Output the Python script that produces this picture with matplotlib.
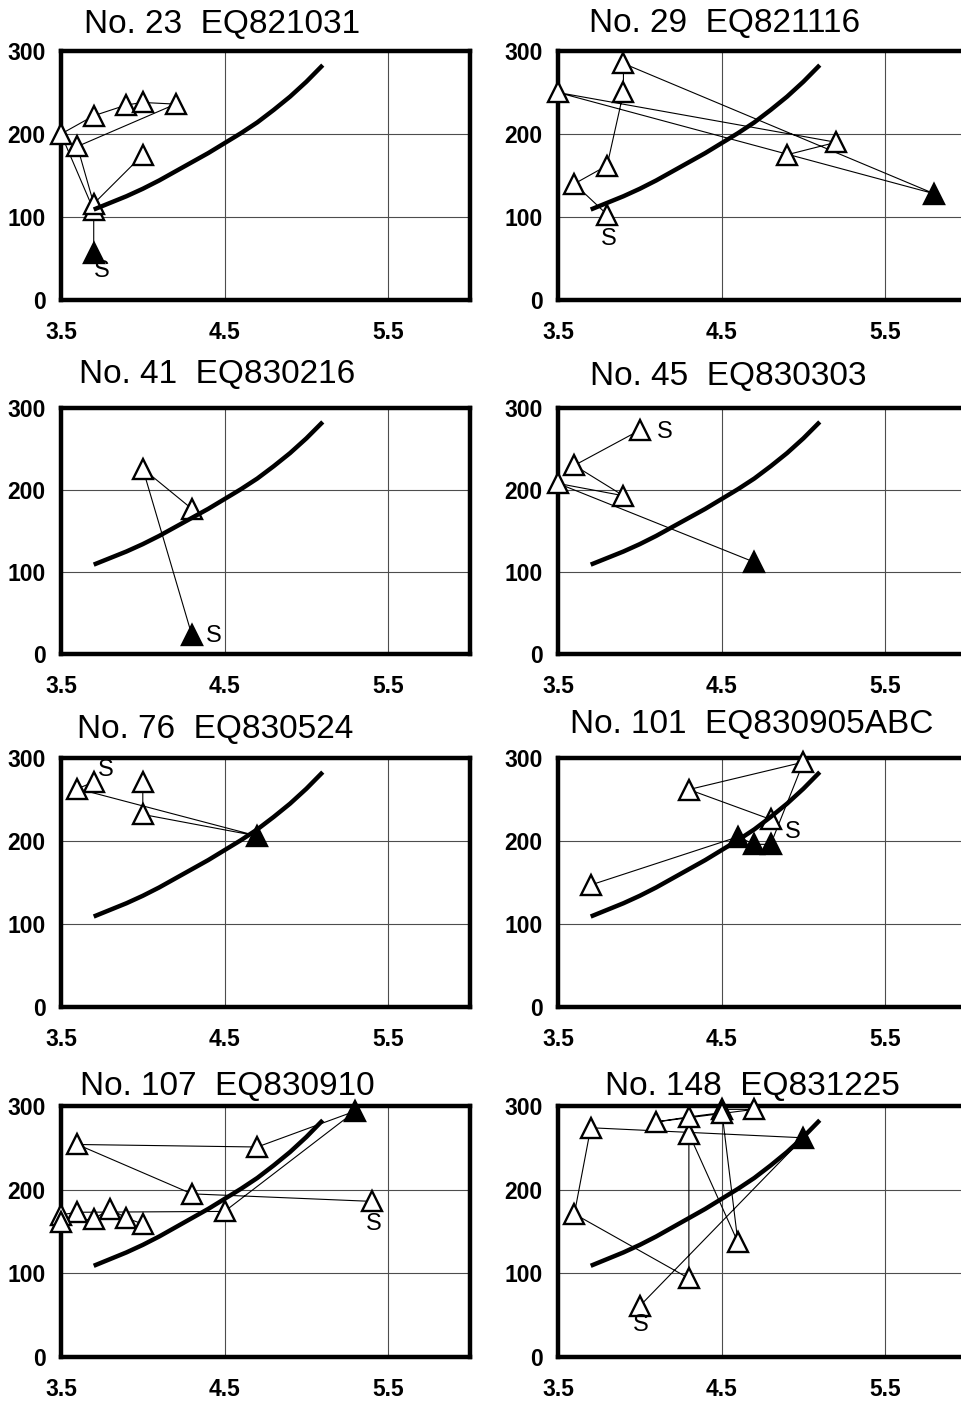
import matplotlib.pyplot as plt

plt.rcParams['font.family'] = ['Liberation Sans', 'DejaVu Sans']

W, H = 961, 1401

# common reference curve (magnitude vs value)
curve_m = [3.7, 3.8, 3.9, 4.0, 4.1, 4.2, 4.3, 4.4, 4.5, 4.6, 4.7, 4.8, 4.9, 5.0, 5.1]
curve_v = [109, 117, 125, 134, 144, 155, 166, 177, 189, 201, 214, 229, 245, 263, 283]

# event sequences, in plotting order (first point is the "S" one)
eq23_m = [3.7, 3.7, 3.5, 3.7, 3.9, 4.0, 4.2, 3.6, 3.7, 4.0]
eq23_v = [57, 108, 200, 222, 235, 238, 236, 185, 116, 175]
eq23_filled = [0]

eq29_m = [3.8, 3.6, 3.8, 3.9, 3.9, 5.8, 3.5, 5.2, 4.9]
eq29_v = [103, 140, 162, 250, 285, 128, 250, 190, 175]
eq29_filled = [5]

eq41_m = [4.3, 4.0, 4.3]
eq41_v = [23, 226, 177]
eq41_filled = [0]

eq45_m = [4.0, 3.6, 3.9, 3.5, 4.7]
eq45_v = [273, 230, 193, 208, 112]
eq45_filled = [4]

eq76_m = [3.7, 3.6, 4.7, 4.0, 4.0]
eq76_v = [271, 263, 206, 232, 271]
eq76_filled = [2]

eq101_m = [4.8, 4.3, 5.0, 4.8, 4.7, 4.6, 3.7]
eq101_v = [226, 262, 295, 196, 196, 205, 147]
eq101_filled = [3, 4, 5]

eq107_m = [5.4, 4.3, 3.6, 4.7, 5.3, 4.5, 3.6, 3.5, 3.5, 3.7, 3.8, 3.9, 4.0]
eq107_v = [186, 195, 254, 251, 294, 174, 173, 170, 161, 165, 177, 166, 159]
eq107_filled = [4]

eq148_m = [4.0, 5.0, 3.7, 3.6, 4.3, 4.3, 4.6, 4.5, 4.7, 4.1, 4.3, 4.5]
eq148_v = [61, 262, 274, 171, 94, 267, 137, 296, 296, 281, 287, 292]
eq148_filled = [1]

titles = ['No. 23  EQ821031', 'No. 29  EQ821116',
          'No. 41  EQ830216', 'No. 45  EQ830303',
          'No. 76  EQ830524', 'No. 101  EQ830905ABC',
          'No. 107  EQ830910', 'No. 148  EQ831225']

panels = [
    (eq23_m, eq23_v, eq23_filled, (8, -18)),
    (eq29_m, eq29_v, eq29_filled, (2, -24)),
    (eq41_m, eq41_v, eq41_filled, (22, -1)),
    (eq45_m, eq45_v, eq45_filled, (25, -2)),
    (eq76_m, eq76_v, eq76_filled, (12, 12)),
    (eq101_m, eq101_v, eq101_filled, (22, -13)),
    (eq107_m, eq107_v, eq107_filled, (2, -23)),
    (eq148_m, eq148_v, eq148_filled, (1, -19)),
]

# layout in pixels: column left edges, row top/bottom, title anchors
col_left = [61, 558]
ax_width = 409
rows = [(51, 300), (408, 654), (758, 1007), (1106, 1357)]
title_pos = [(222, 33), (725, 32), (217, 383), (728, 385),
             (215, 738), (752, 733), (227, 1095), (752, 1095)]

fig = plt.figure(figsize=(W / 100, H / 100), dpi=100)

for i, (m, v, filled, s_off) in enumerate(panels):
    r, c = divmod(i, 2)
    top, bot = rows[r]
    ax = fig.add_axes([col_left[c] / W, 1 - bot / H, ax_width / W, (bot - top) / H])
    ax.set_xlim(3.5, 6.0)
    ax.set_ylim(0, 300)
    ax.set_xticks([3.5, 4.5, 5.5])
    ax.set_xticklabels(['3.5', '4.5', '5.5'])
    ax.set_yticks([0, 100, 200, 300])
    ax.tick_params(length=0, labelsize=16.5)
    ax.tick_params(axis='x', pad=15)
    ax.tick_params(axis='y', pad=11)
    for lab in ax.get_xticklabels() + ax.get_yticklabels():
        lab.set_fontweight('bold')
    ax.grid(True, color='0.3', lw=0.8)
    for sp in ax.spines.values():
        sp.set_linewidth(3.2)

    # connecting path
    ax.plot(m, v, color='black', lw=0.8, zorder=3, clip_on=False)
    open_idx = [k for k in range(len(m)) if k not in filled]
    ax.plot([m[k] for k in open_idx], [v[k] for k in open_idx], ls='none',
            marker='^', ms=15, mfc='white', mec='black', mew=1.7,
            zorder=4, clip_on=False)
    ax.plot([m[k] for k in filled], [v[k] for k in filled], ls='none',
            marker='^', ms=15, mfc='black', mec='black', mew=1.7,
            zorder=5, clip_on=False)
    ax.plot(curve_m, curve_v, color='black', lw=3.2, zorder=6,
            solid_capstyle='butt', solid_joinstyle='round')
    ax.annotate('S', (m[0], v[0]), xytext=s_off, textcoords='offset pixels',
                ha='center', va='center', fontsize=17,
                family=['Liberation Sans Narrow', 'Liberation Sans'],
                zorder=7, annotation_clip=False)

    tx, ty = title_pos[i]
    fig.text(tx / W, 1 - ty / H, titles[i], ha='center', va='baseline',
             fontsize=24)

fig.savefig('out.png', dpi=100)
